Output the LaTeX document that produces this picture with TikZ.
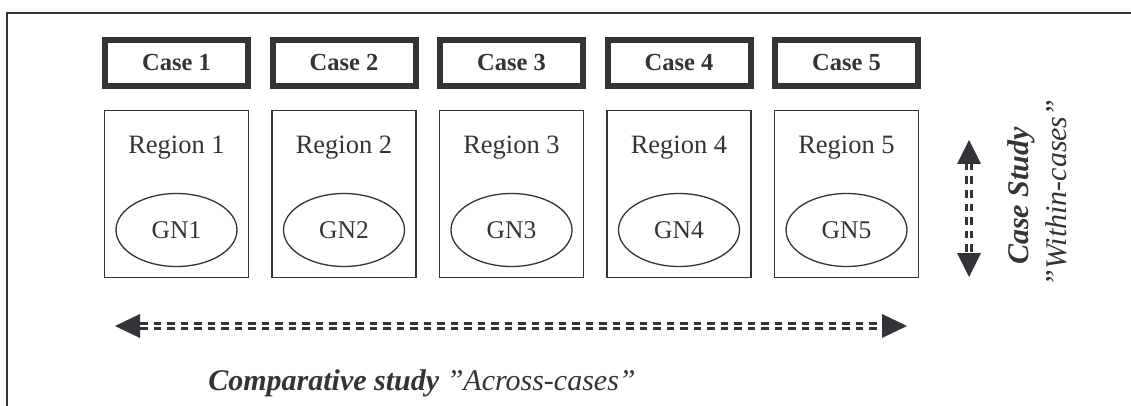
\documentclass[tikz,border=0pt]{standalone}
\usepackage{fontspec}
\setmainfont{Liberation Serif}
\usetikzlibrary{calc,shapes.geometric}
\definecolor{ink}{RGB}{52,52,56}
\begin{document}
\begin{tikzpicture}[x=1pt,y=-1pt,
  casebox/.style={draw=ink,line width=6pt,minimum width=143pt,minimum height=46pt,inner sep=0pt,
    font=\fontsize{24.5}{27}\selectfont\bfseries,text=ink},
  regionbox/.style={draw=ink,line width=1.6pt,minimum width=144pt,minimum height=167pt,inner sep=0pt},
  regionlabel/.style={font=\fontsize{26.5}{29}\selectfont,text=ink},
  gnnode/.style={draw=ink,line width=1.3pt,ellipse,minimum width=121pt,minimum height=73pt,inner sep=0pt,
    font=\fontsize{25.5}{28}\selectfont,text=ink},
  dshaft/.style={draw=ink,line width=3pt,double=white,double distance=1.6pt,dash pattern=on 7.5pt off 6pt},
  bigtxt/.style={font=\fontsize{30}{33}\selectfont,text=ink},
]
\useasboundingbox (0,0) rectangle (1131,406);
\fill[white] (0,0) rectangle (1131,406);
% outer frame (only top and left edges visible)
\draw[ink,line width=2.5pt] (7,420) -- (7,13) -- (1140,13);
\foreach \i in {1,...,5}{
  \pgfmathsetmacro{\cx}{176.5+167.5*(\i-1)}
  \node[casebox] (case\i) at (\cx,63) {Case \i};
  \node[regionbox] (reg\i) at (\cx,194) {};
  \node[regionlabel] (rl\i) at (\cx,148) {Region \i};
  \node[gnnode] (gn\i) at (\cx,230) {GN\i};
}
% vertical arrow
\coordinate (vt) at (969,140);
\coordinate (vb) at (969,277);
\path[dshaft] ($(vt)+(0,23)$) -- ($(vb)+(0,-23)$);
\fill[ink] (vt) -- ($(vt)+(-12,24)$) -- ($(vt)+(12,24)$) -- cycle;
\fill[ink] (vb) -- ($(vb)+(-12,-24)$) -- ($(vb)+(12,-24)$) -- cycle;
% horizontal arrow
\coordinate (hl) at (115,326);
\coordinate (hr) at (907,326);
\path[dshaft] ($(hl)+(25,0)$) -- ($(hr)+(-25,0)$);
\fill[ink] (hl) -- ($(hl)+(25,-12)$) -- ($(hl)+(25,12)$) -- cycle;
\fill[ink] (hr) -- ($(hr)+(-25,-12)$) -- ($(hr)+(-25,12)$) -- cycle;
% labels
\node[bigtxt,rotate=90] (cs) at (1021,196) {\bfseries\itshape Case Study};
\node[bigtxt,rotate=90] (wc) at (1056,193) {\itshape ”Within-cases”};
\node[bigtxt] (cmp) at (422,383) {\textbf{\textit{Comparative study}} \textit{”Across-cases”}};
\end{tikzpicture}
\end{document}
